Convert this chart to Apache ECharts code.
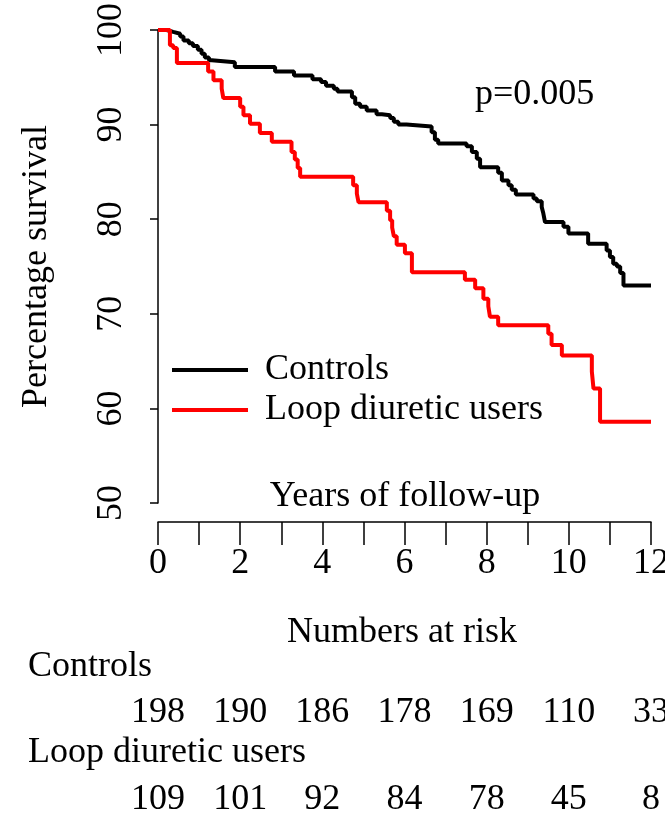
<!DOCTYPE html>
<html>
<head>
<meta charset="utf-8">
<script src="https://cdn.jsdelivr.net/npm/echarts@6/dist/echarts.min.js"></script>
<style>
  html, body { margin: 0; padding: 0; background: #fff; }
  #chart { width: 665px; height: 823px; }
</style>
</head>
<body>
<div id="chart"></div>
<script>
// Kaplan-Meier steps (years, % surviving after the drop)
var ctrlTimes = [0.21,0.37,0.54,0.62,0.75,0.85,0.97,1.06,1.14,1.24,1.31,1.87,2.85,3.31,3.76,3.97,4.09,4.28,4.37,4.72,4.80,4.92,5.08,5.32,5.45,5.65,5.74,5.85,6.05,6.66,6.74,6.82,7.51,7.64,7.76,7.84,8.28,8.37,8.53,8.61,8.71,9.14,9.22,9.34,9.38,9.42,9.87,9.99,10.47,10.92,11.00,11.08,11.17,11.25,11.33];
var ctrlSurv  = [99.8,99.6,99.3,98.9,98.6,98.3,97.9,97.5,97.1,96.8,96.6,96.1,95.6,95.2,94.8,94.5,94.1,93.8,93.5,92.9,92.2,91.9,91.5,91.1,91.0,90.7,90.3,90.0,89.8,89.2,88.4,88.0,87.7,87.1,86.4,85.5,84.9,84.1,83.6,83.1,82.6,82.2,81.9,81.3,80.6,79.7,79.2,78.5,77.4,76.7,76.0,75.3,75.0,74.3,73.0];

var loopTimes = [0.29,0.37,0.46,1.22,1.35,1.55,1.59,2.00,2.08,2.24,2.48,2.77,3.25,3.33,3.40,3.46,4.75,4.84,4.88,5.57,5.65,5.70,5.74,5.81,6.01,6.18,7.47,7.72,7.92,8.04,8.08,8.28,9.50,9.58,9.83,10.56,10.60,10.76];
var loopSurv  = [98.4,98.1,96.5,95.6,94.7,93.8,92.8,91.9,91.0,90.1,89.1,88.2,87.1,86.3,85.4,84.5,83.6,82.7,81.8,80.9,79.9,79.1,78.2,77.3,76.4,74.4,73.6,72.7,71.6,70.8,69.7,68.8,67.9,66.7,65.6,63.9,62.1,58.6];

var followUpEnd = 12;

// numbers at risk
var riskTimes = [0, 2, 4, 6, 8, 10, 12];
var ctrlRisk  = [198, 190, 186, 178, 169, 110, 33];
var loopRisk  = [109, 101, 92, 84, 78, 45, 8];

var groupNames = ['Controls', 'Loop diuretic users'];
var pValueText = 'p=0.005';

var FONT = 'Liberation Serif';

function kmData(times, surv) {
  var d = [[0, 100]];
  for (var i = 0; i < times.length; i++) d.push([times[i], surv[i]]);
  d.push([followUpEnd, surv[surv.length - 1]]);
  return d;
}

function riskData(values, row) {
  return riskTimes.map(function (t, i) { return [t, row, values[i]]; });
}

var chart = echarts.init(document.getElementById('chart'));

var option = {
  animation: false,
  backgroundColor: '#fff',
  textStyle: { fontFamily: FONT, color: '#000' },
  grid: [
    { left: 158, right: 14, top: 30, height: 473, outerBoundsMode: 'none' },   // 主图
    { left: 158, right: 14, top: 713, height: 87, outerBoundsMode: 'none' }    // numbers at risk
  ],
  legend: {
    orient: 'vertical',
    left: 172,
    top: 350,
    padding: 0,
    itemGap: 0,
    itemWidth: 76,
    itemHeight: 4,
    icon: 'rect',
    data: groupNames,
    textStyle: { fontFamily: FONT, fontSize: 36, color: '#000', lineHeight: 40, padding: [0, 0, 0, 12] }
  },
  xAxis: [
    {
      type: 'value', gridIndex: 0, min: 0, max: 12, interval: 1, offset: 19,
      axisLine: { lineStyle: { color: '#000', width: 1.5 } },
      axisTick: { length: 23, lineStyle: { color: '#000', width: 1.5 } },
      axisLabel: {
        fontSize: 36, color: '#000', fontFamily: FONT, margin: 24,
        formatter: function (v) { return v % 2 === 0 ? String(v) : ''; }
      },
      splitLine: { show: false }
    },
    { type: 'value', gridIndex: 1, min: 0, max: 12, show: false }
  ],
  yAxis: [
    {
      type: 'value', gridIndex: 0, min: 50, max: 100, interval: 10, offset: 21,
      name: 'Percentage survival', nameLocation: 'middle', nameGap: 82, nameRotate: 90,
      nameTextStyle: { fontSize: 36, color: '#000', fontFamily: FONT },
      axisLine: { show: true, lineStyle: { color: '#000', width: 1.5 } },
      axisTick: { show: true, length: 8, lineStyle: { color: '#000', width: 1.5 } },
      axisLabel: { rotate: 90, fontSize: 36, color: '#000', fontFamily: FONT, margin: 7 },
      splitLine: { show: false }
    },
    { type: 'value', gridIndex: 1, min: 0, max: 1, show: false }
  ],
  graphic: [
    { type: 'text', style: { text: pValueText, x: 475, y: 95, font: '36px "Liberation Serif"', fill: '#000', textAlign: 'left', textVerticalAlign: 'middle' } },
    { type: 'text', style: { text: 'Years of follow-up', x: 405, y: 497, font: '36px "Liberation Serif"', fill: '#000', textAlign: 'center', textVerticalAlign: 'middle' } },
    { type: 'text', style: { text: 'Numbers at risk', x: 402, y: 633, font: '36px "Liberation Serif"', fill: '#000', textAlign: 'center', textVerticalAlign: 'middle' } },
    { type: 'text', style: { text: groupNames[0], x: 28, y: 667, font: '36px "Liberation Serif"', fill: '#000', textAlign: 'left', textVerticalAlign: 'middle' } },
    { type: 'text', style: { text: groupNames[1], x: 28, y: 753, font: '36px "Liberation Serif"', fill: '#000', textAlign: 'left', textVerticalAlign: 'middle' } }
  ],
  series: [
    {
      name: groupNames[0], type: 'line', step: 'end', xAxisIndex: 0, yAxisIndex: 0,
      symbol: 'none', color: '#000',
      lineStyle: { color: '#000', width: 4 },
      data: kmData(ctrlTimes, ctrlSurv)
    },
    {
      name: groupNames[1], type: 'line', step: 'end', xAxisIndex: 0, yAxisIndex: 0,
      symbol: 'none', color: '#ff0000',
      lineStyle: { color: '#ff0000', width: 4 },
      data: kmData(loopTimes, loopSurv)
    },
    {
      type: 'scatter', xAxisIndex: 1, yAxisIndex: 1, symbolSize: 1, silent: true,
      itemStyle: { color: 'rgba(0,0,0,0)', opacity: 1 },
      label: { show: true, position: 'inside', fontSize: 36, color: '#000', fontFamily: FONT,
               formatter: function (p) { return p.value[2]; } },
      data: riskData(ctrlRisk, 1).concat(riskData(loopRisk, 0))
    }
  ]
};

chart.setOption(option);
</script>
</body>
</html>
